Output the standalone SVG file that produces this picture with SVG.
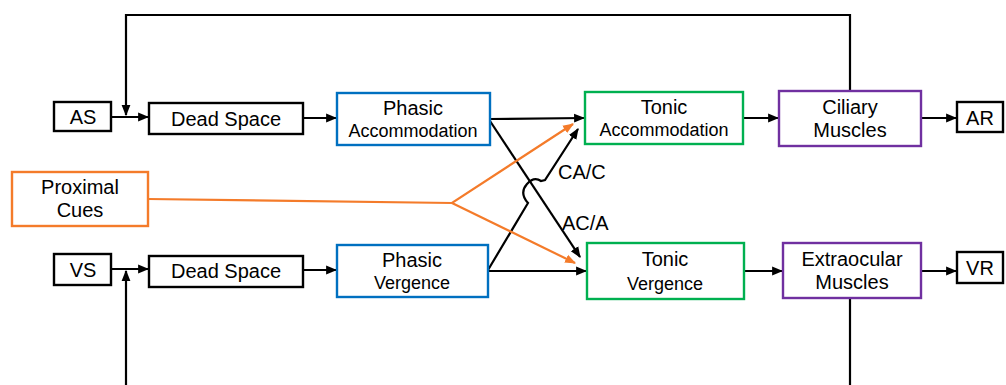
<svg xmlns="http://www.w3.org/2000/svg" width="1006" height="385" viewBox="0 0 1006 385">
<defs>
<style>
.box{fill:#fff;stroke-width:2.4}
.blk{stroke:#000}
.blue{stroke:#0070c0}
.green{stroke:#00b050}
.purple{stroke:#7030a0}
.orange{stroke:#f47b2a}
text{font-family:"Liberation Sans",Arial,sans-serif;fill:#000;text-anchor:middle}
.t20{font-size:20px}
.t18{font-size:18px}
.lbl{text-anchor:start}
.line{fill:none;stroke:#000;stroke-width:2.2}
.oline{fill:none;stroke:#f47b2a;stroke-width:2.2}
</style>
<marker id="ah" viewBox="0 0 10 10" refX="9" refY="5" markerWidth="5" markerHeight="5" orient="auto" markerUnits="strokeWidth"><path d="M0,1 L10,5 L0,9 z" fill="#000"/></marker>
<marker id="oh" viewBox="0 0 10 10" refX="9" refY="5" markerWidth="5" markerHeight="5" orient="auto" markerUnits="strokeWidth"><path d="M0,1 L10,5 L0,9 z" fill="#f47b2a"/></marker>
</defs>
<rect width="1006" height="385" fill="#fff"/>
<g id="connectors">
<path class="line" d="M850,91 V15 H126 V115" marker-end="url(#ah)"/>
<path class="line" d="M850,298 V385"/>
<path class="line" d="M126,385 V271" marker-end="url(#ah)"/>
<path class="line" d="M112,117 H148" marker-end="url(#ah)"/>
<path class="line" d="M303,118 H336" marker-end="url(#ah)"/>
<path class="line" d="M490,119 L584,118" marker-end="url(#ah)"/>
<path class="line" d="M743,118 H778" marker-end="url(#ah)"/>
<path class="line" d="M921,118 H956" marker-end="url(#ah)"/>
<path class="line" d="M112,269 H148" marker-end="url(#ah)"/>
<path class="line" d="M303,270 H336" marker-end="url(#ah)"/>
<path class="line" d="M488,271 H586" marker-end="url(#ah)"/>
<path class="line" d="M744,271 H782" marker-end="url(#ah)"/>
<path class="line" d="M921,271 H956" marker-end="url(#ah)"/>
<path class="line" d="M490,121 L580,257" marker-end="url(#ah)"/>
<path class="line" d="M488,270 L528,203 Q519,193 527,184 Q534,176 541,181 L545,180 L578,129" marker-end="url(#ah)"/>
<path class="oline" d="M148,199 L452,203 L573,124" marker-end="url(#oh)"/>
<path class="oline" d="M452,203 L575,263" marker-end="url(#oh)"/>
</g>
<g id="AS"><rect class="box blk" x="54" y="102" width="57" height="29"/><text class="t20" x="83" y="124">AS</text></g>
<g id="DeadSpaceTop"><rect class="box blk" x="149" y="103" width="154" height="31"/><text class="t20" x="226" y="126">Dead Space</text></g>
<g id="PhasicAcc"><rect class="box blue" x="337" y="93" width="153" height="52"/><text class="t20" x="413" y="115">Phasic</text><text class="t18" x="413" y="137">Accommodation</text></g>
<g id="TonicAcc"><rect class="box green" x="585" y="92" width="158" height="52"/><text class="t20" x="664" y="114">Tonic</text><text class="t18" x="664" y="136">Accommodation</text></g>
<g id="Ciliary"><rect class="box purple" x="779" y="91" width="142" height="55"/><text class="t20" x="850" y="114">Ciliary</text><text class="t20" x="850" y="137">Muscles</text></g>
<g id="AR"><rect class="box blk" x="957" y="102" width="46" height="30"/><text class="t20" x="980" y="125">AR</text></g>
<g id="Proximal"><rect class="box orange" x="12" y="172" width="136" height="54"/><text class="t20" x="80" y="194">Proximal</text><text class="t20" x="80" y="217">Cues</text></g>
<g id="VS"><rect class="box blk" x="54" y="254" width="57" height="31"/><text class="t20" x="83" y="277">VS</text></g>
<g id="DeadSpaceBot"><rect class="box blk" x="149" y="256" width="154" height="31"/><text class="t20" x="226" y="278">Dead Space</text></g>
<g id="PhasicVerg"><rect class="box blue" x="337" y="245" width="151" height="52"/><text class="t20" x="412" y="267">Phasic</text><text class="t18" x="412" y="289">Vergence</text></g>
<g id="TonicVerg"><rect class="box green" x="587" y="243" width="157" height="56"/><text class="t20" x="665" y="266">Tonic</text><text class="t18" x="665" y="290">Vergence</text></g>
<g id="Extraocular"><rect class="box purple" x="783" y="243" width="138" height="55"/><text class="t20" x="852" y="266">Extraocular</text><text class="t20" x="852" y="289">Muscles</text></g>
<g id="VR"><rect class="box blk" x="957" y="252" width="46" height="31"/><text class="t20" x="980" y="275">VR</text></g>
<g id="labels"><text class="t20 lbl" x="558" y="179">CA/C</text><text class="t20 lbl" x="562" y="230">AC/A</text></g>
</svg>
